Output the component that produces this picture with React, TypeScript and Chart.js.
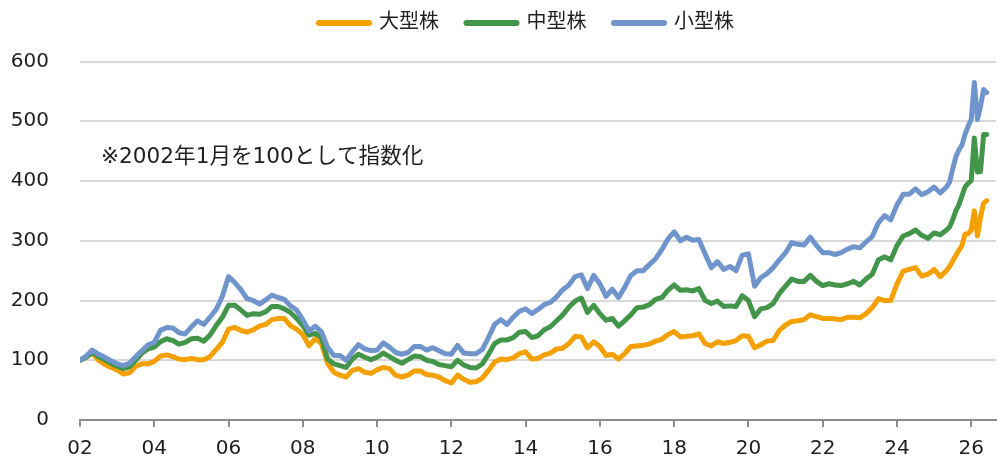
import { useEffect, useRef } from "react";
import { Chart, registerables } from "chart.js";

Chart.register(...registerables);

// Observation months (every 2 months, then monthly from mid-2025)
const months: string[] = [
  "2002-01","2002-03","2002-05","2002-07","2002-09","2002-11",
  "2003-01","2003-03","2003-05","2003-07","2003-09","2003-11",
  "2004-01","2004-03","2004-05","2004-07","2004-09","2004-11",
  "2005-01","2005-03","2005-05","2005-07","2005-09","2005-11",
  "2006-01","2006-03","2006-05","2006-07","2006-09","2006-11",
  "2007-01","2007-03","2007-05","2007-07","2007-09","2007-11",
  "2008-01","2008-03","2008-05","2008-07","2008-09","2008-11",
  "2009-01","2009-03","2009-05","2009-07","2009-09","2009-11",
  "2010-01","2010-03","2010-05","2010-07","2010-09","2010-11",
  "2011-01","2011-03","2011-05","2011-07","2011-09","2011-11",
  "2012-01","2012-03","2012-05","2012-07","2012-09","2012-11",
  "2013-01","2013-03","2013-05","2013-07","2013-09","2013-11",
  "2014-01","2014-03","2014-05","2014-07","2014-09","2014-11",
  "2015-01","2015-03","2015-05","2015-07","2015-09","2015-11",
  "2016-01","2016-03","2016-05","2016-07","2016-09","2016-11",
  "2017-01","2017-03","2017-05","2017-07","2017-09","2017-11",
  "2018-01","2018-03","2018-05","2018-07","2018-09","2018-11",
  "2019-01","2019-03","2019-05","2019-07","2019-09","2019-11",
  "2020-01","2020-03","2020-05","2020-07","2020-09","2020-11",
  "2021-01","2021-03","2021-05","2021-07","2021-09","2021-11",
  "2022-01","2022-03","2022-05","2022-07","2022-09","2022-11",
  "2023-01","2023-03","2023-05","2023-07","2023-09","2023-11",
  "2024-01","2024-03","2024-05","2024-07","2024-09","2024-11",
  "2025-01","2025-03","2025-05",
  "2025-06","2025-07","2025-08","2025-09","2025-10","2025-11","2025-12",
  "2026-01","2026-02","2026-03","2026-04","2026-05","2026-06",
];

// 大型株
const largeCap: number[] = [
  100,105,112,100,93,88,
  84,77,79,90,94,94,
  98,107,109,106,102,101,
  103,101,101,106,118,130,
  152,155,150,147,151,157,
  160,168,170,170,158,152,
  143,124,136,128,95,80,
  75,72,83,86,80,78,
  84,88,86,75,72,75,
  82,82,76,75,72,66,
  62,75,68,63,64,70,
  83,97,102,101,104,111,
  114,102,103,109,112,119,
  120,128,140,139,121,131,
  123,108,110,102,111,123,
  124,125,127,132,135,143,
  148,139,140,141,144,128,
  124,131,128,130,133,141,
  140,121,126,132,133,150,
  159,165,166,168,176,173,
  170,170,169,168,172,172,
  171,178,188,203,200,200,
  228,249,252,255,241,244,
  252,240,250,
  257,266,275,284,292,311,312,
  318,350,308,340,363,367,
];

// 中型株
const midCap: number[] = [
  100,105,113,106,101,95,
  90,86,89,100,112,119,
  122,131,136,133,127,130,
  136,137,132,142,158,172,
  192,192,184,175,178,177,
  181,190,190,186,180,170,
  158,142,145,138,102,94,
  91,88,102,110,105,101,
  105,112,106,100,95,101,
  107,106,100,98,93,91,
  89,100,92,88,87,94,
  110,128,134,134,138,147,
  148,138,141,151,156,166,
  176,189,199,204,180,192,
  178,167,170,157,166,176,
  188,189,193,202,205,217,
  226,217,218,216,220,200,
  195,199,190,191,190,208,
  200,173,186,188,195,212,
  224,236,232,232,242,232,
  225,228,226,225,228,232,
  226,236,244,268,273,268,
  292,308,312,318,309,304,
  313,310,318,
  323,335,350,360,375,390,396,
  401,472,415,416,478,478,
];

// 小型株
const smallCap: number[] = [
  100,107,117,110,105,99,
  94,91,95,106,116,126,
  130,150,155,154,146,144,
  156,166,160,172,185,207,
  240,230,218,203,200,194,
  201,209,205,202,191,184,
  168,149,157,148,122,108,
  108,100,114,126,119,116,
  117,129,122,113,110,113,
  123,123,117,121,116,111,
  110,125,112,111,111,118,
  138,160,168,160,172,182,
  186,178,185,193,197,206,
  218,226,240,243,220,242,
  228,207,219,205,222,242,
  250,250,260,270,285,303,
  315,300,306,301,302,278,
  255,265,252,257,250,276,
  278,224,238,245,255,268,
  280,297,294,293,306,292,
  280,280,277,280,286,290,
  288,298,307,330,342,335,
  360,378,378,387,377,382,
  390,380,390,
  398,420,440,452,460,478,492,
  503,565,503,525,553,548,
];

const seriesNames: string[] = ["大型株", "中型株", "小型株"];
const seriesColors: string[] = ["#F4A000", "#43954A", "#7095CD"];
const xTickLabels: string[] = ["02","04","06","08","10","12","14","16","18","20","22","24","26"];
const yTickValues: number[] = [0, 100, 200, 300, 400, 500, 600];
const noteText = "※2002年1月を100として指数化";

const FONT = '"DejaVu Sans", "Noto Sans CJK JP", sans-serif';
const TEXT_COLOR = "#1f1f1f";

function monthOffset(label: string): number {
  const [y, m] = label.split("-").map(Number);
  return (y - 2002) * 12 + (m - 1);
}
function tickOffset(yy: string): number {
  return (2000 + Number(yy) - 2002) * 12;
}

export default function App() {
  const ref = useRef<HTMLCanvasElement>(null);

  useEffect(() => {
    document.body.style.margin = "0";
    const xs = months.map(monthOffset);
    const toPoints = (vals: number[]) => vals.map((v, i) => ({ x: xs[i], y: v }));
    const seriesValues = [largeCap, midCap, smallCap];

    const notePlugin = {
      id: "notePlugin",
      afterDatasetsDraw(chart: any) {
        const { ctx, chartArea } = chart;
        ctx.save();
        ctx.font = `21.6px ${FONT}`;
        ctx.fillStyle = TEXT_COLOR;
        ctx.textAlign = "left";
        ctx.textBaseline = "middle";
        ctx.fillText(noteText, chartArea.left + 21, chartArea.top + 95.5);
        ctx.restore();
      },
    };

    const chart = new Chart(ref.current as HTMLCanvasElement, {
      type: "line",
      data: {
        datasets: seriesNames.map((name, i) => ({
          label: name,
          data: toPoints(seriesValues[i]),
          borderColor: seriesColors[i],
          backgroundColor: seriesColors[i],
          order: 3 - i,
          yAxisID: "y",
        })),
      },
      options: {
        animation: false,
        responsive: false,
        events: [],
        layout: { padding: { top: -14.5, left: 0, right: -55, bottom: 0 } },
        elements: {
          point: { radius: 0, hoverRadius: 0 },
          line: {
            borderWidth: 5,
            tension: 0,
            borderCapStyle: "round",
            borderJoinStyle: "round",
            fill: false,
          },
        },
        plugins: {
          legend: {
            position: "top",
            labels: {
              usePointStyle: true,
              pointStyleWidth: 50,
              padding: 27.5,
              color: TEXT_COLOR,
              font: { size: 20, family: FONT },
              generateLabels: (c: any) =>
                c.data.datasets.map((ds: any, i: number) => ({
                  text: ds.label,
                  strokeStyle: ds.borderColor,
                  fillStyle: ds.borderColor,
                  lineWidth: 6,
                  lineCap: "round",
                  pointStyle: "line",
                  hidden: false,
                  datasetIndex: i,
                  fontColor: TEXT_COLOR,
                })),
            },
          },
          title: {
            display: true,
            text: "",
            weight: 500,
            padding: 0,
            font: { size: 10, lineHeight: "18.5px" },
          },
          tooltip: { enabled: false },
        },
        scales: {
          x: {
            type: "linear",
            min: 0,
            max: 296,
            afterBuildTicks: (s: any) => {
              s.ticks = xTickLabels.map((t) => ({ value: tickOffset(t) }));
            },
            afterFit: (s: any) => {
              s.height = 39.7;
            },
            ticks: {
              autoSkip: false,
              maxRotation: 0,
              padding: 10,
              color: TEXT_COLOR,
              font: { size: 20, family: FONT },
              callback: (v: any) => {
                const i = xTickLabels.findIndex((t) => tickOffset(t) === v);
                return i >= 0 ? xTickLabels[i] : "";
              },
            },
            grid: {
              drawOnChartArea: false,
              drawTicks: true,
              tickLength: 7,
              color: "#8C8C8C",
              lineWidth: 2,
            },
            border: { display: true, color: "#8C8C8C", width: 2 },
          },
          y: {
            position: "left",
            min: 0,
            max: 600,
            afterBuildTicks: (s: any) => {
              s.ticks = yTickValues.map((v) => ({ value: v }));
            },
            afterFit: (s: any) => {
              s.width = 80;
            },
            ticks: {
              padding: 31,
              color: TEXT_COLOR,
              font: { size: 20, family: FONT },
            },
            grid: { color: "#D9D9D9", lineWidth: 2, drawTicks: false },
            border: { display: false },
          },
          yRightSpacer: {
            type: "linear",
            position: "right",
            display: true,
            min: 0,
            max: 1,
            ticks: { display: false },
            grid: { display: false, drawTicks: false },
            border: { display: false },
            afterFit: (s: any) => {
              s.width = 57;
            },
          },
        },
      } as any,
      plugins: [notePlugin],
    });

    return () => chart.destroy();
  }, []);

  return (
    <div style={{ width: 998, height: 463 }}>
      <canvas ref={ref} width={998} height={463} style={{ display: "block" }} />
    </div>
  );
}
